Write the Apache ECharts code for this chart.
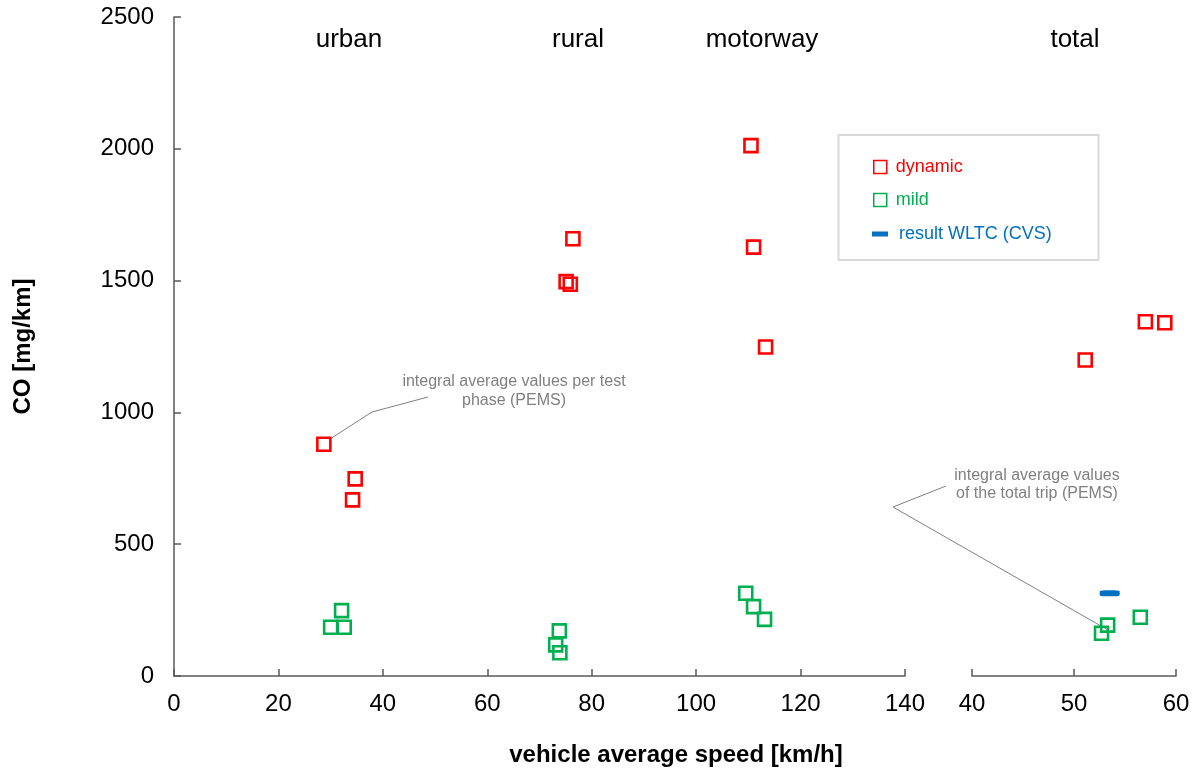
<!DOCTYPE html>
<html>
<head>
<meta charset="utf-8">
<script src="https://cdn.jsdelivr.net/npm/echarts@6/dist/echarts.min.js"></script>
<style>
html,body{margin:0;padding:0;background:#fff;}
#chart{width:1201px;height:772px;}
</style>
</head>
<body>
<div id="chart"></div>
<script>
// ---- data (vehicle average speed [km/h], CO [mg/km]) ----
var urbanDynamic    = [[28.7, 879], [34.7, 748], [34.2, 668]];
var urbanMild       = [[32.1, 248], [30.0, 185], [32.6, 185]];
var ruralDynamic    = [[76.4, 1659], [75.1, 1496], [75.9, 1486]];
var ruralMild       = [[73.8, 171], [73.1, 118], [73.9, 88]];
var motorwayDynamic = [[110.5, 2012], [111.0, 1627], [113.3, 1248]];
var motorwayMild    = [[109.5, 314], [111.0, 263], [113.1, 215]];
var totalDynamic    = [[51.1, 1199], [57.0, 1344], [58.9, 1340]];
var totalMild       = [[53.3, 193], [52.7, 162], [56.5, 223]];
var wltcResult      = [[53.5, 314]];

var phaseLabels = ['urban', 'rural', 'motorway', 'total'];
var seriesNames = ['dynamic', 'mild', 'result WLTC (CVS)'];
var annotationPhase = 'integral average values per test\nphase (PEMS)';
var annotationTotal = 'integral average values\nof the total trip (PEMS)';
var xTitle = 'vehicle average speed [km/h]';
var yTitle = 'CO [mg/km]';

var RED = '#ff0000', GREEN = '#00b050', BLUE = '#0070c0', AXIS = '#595959', GREY = '#808080';
var FONT = '"Liberation Sans", Arial, sans-serif';

var chart = echarts.init(document.getElementById('chart'));

function plain(v) { return String(v); }

function axisX(gridIndex, min, max, interval) {
  return {
    type: 'value', gridIndex: gridIndex, min: min, max: max, interval: interval,
    axisLine: {show: true, onZero: false, lineStyle: {color: AXIS, width: 1.5}},
    axisTick: {show: true, inside: true, length: 7, lineStyle: {color: AXIS, width: 1.5}},
    axisLabel: {color: '#000', fontSize: 24, fontFamily: FONT, margin: 16, formatter: plain},
    splitLine: {show: false}
  };
}

function squareSeries(name, data, color, xi) {
  return {
    name: name, type: 'scatter', xAxisIndex: xi, yAxisIndex: xi,
    symbol: 'rect', symbolSize: 13, data: data,
    itemStyle: {color: 'rgba(255,255,255,0)', borderColor: color, borderWidth: 2.6, opacity: 1},
    emphasis: {disabled: true}, z: 3
  };
}

var option = {
  animation: false,
  backgroundColor: '#fff',
  grid: [
    {left: 174, top: 17, width: 731, height: 659},
    {left: 972, top: 17, width: 204, height: 659}
  ],
  xAxis: [axisX(0, 0, 140, 20), axisX(1, 40, 60, 10)],
  yAxis: [
    {
      type: 'value', gridIndex: 0, min: 0, max: 2500, interval: 500,
      name: yTitle, nameLocation: 'middle', nameGap: 139, nameRotate: 90,
      nameTextStyle: {fontSize: 24, fontWeight: 'bold', color: '#000', fontFamily: FONT},
      axisLine: {show: true, lineStyle: {color: AXIS, width: 1.5}},
      axisTick: {show: true, inside: true, length: 7, lineStyle: {color: AXIS, width: 1.5}},
      axisLabel: {color: '#000', fontSize: 24, fontFamily: FONT, margin: 20, formatter: plain},
      splitLine: {show: false}
    },
    {type: 'value', gridIndex: 1, min: 0, max: 2500, interval: 500, show: false}
  ],
  legend: [
    {
      orient: 'vertical', left: 868, top: 153, itemWidth: 13, itemHeight: 13, itemGap: 15,
      selectedMode: false,
      textStyle: {fontSize: 18, fontFamily: FONT, padding: [0, 0, 0, 4]},
      data: [
        {name: seriesNames[0], icon: 'rect', itemStyle: {color: 'rgba(255,255,255,0)', borderColor: RED, borderWidth: 1.5}, textStyle: {color: RED}},
        {name: seriesNames[1], icon: 'rect', itemStyle: {color: 'rgba(255,255,255,0)', borderColor: GREEN, borderWidth: 1.5}, textStyle: {color: GREEN}}
      ]
    },
    {
      orient: 'vertical', left: 867, top: 220, itemWidth: 16, itemHeight: 5,
      selectedMode: false,
      textStyle: {fontSize: 18, fontFamily: FONT, padding: [0, 0, 0, 6]},
      data: [
        {name: seriesNames[2], icon: 'rect', itemStyle: {color: BLUE, borderWidth: 0}, textStyle: {color: BLUE}}
      ]
    }
  ],
  series: [
    squareSeries(seriesNames[0], urbanDynamic.concat(ruralDynamic, motorwayDynamic), RED, 0),
    squareSeries(seriesNames[1], urbanMild.concat(ruralMild, motorwayMild), GREEN, 0),
    squareSeries(seriesNames[0], totalDynamic, RED, 1),
    squareSeries(seriesNames[1], totalMild, GREEN, 1),
    {
      name: seriesNames[2], type: 'scatter', xAxisIndex: 1, yAxisIndex: 1,
      symbol: 'roundRect', symbolSize: [20, 6], data: wltcResult,
      itemStyle: {color: BLUE, opacity: 1}, emphasis: {disabled: true}, z: 4
    }
  ],
  graphic: [
    // legend frame
    {type: 'rect', shape: {x: 838.5, y: 135, width: 260, height: 125}, style: {fill: 'none', stroke: '#d9d9d9', lineWidth: 2}, z: 1},
    // phase labels
    {type: 'text', x: 349, y: 40, style: {text: phaseLabels[0], fontSize: 26, fontFamily: FONT, fill: '#000', align: 'center', verticalAlign: 'middle'}},
    {type: 'text', x: 578, y: 40, style: {text: phaseLabels[1], fontSize: 26, fontFamily: FONT, fill: '#000', align: 'center', verticalAlign: 'middle'}},
    {type: 'text', x: 762, y: 40, style: {text: phaseLabels[2], fontSize: 26, fontFamily: FONT, fill: '#000', align: 'center', verticalAlign: 'middle'}},
    {type: 'text', x: 1075, y: 40, style: {text: phaseLabels[3], fontSize: 26, fontFamily: FONT, fill: '#000', align: 'center', verticalAlign: 'middle'}},
    // annotations
    {type: 'text', x: 514, y: 391, style: {text: annotationPhase, fontSize: 16, lineHeight: 19, fontFamily: FONT, fill: GREY, align: 'center', verticalAlign: 'middle'}},
    {type: 'polyline', shape: {points: [[330, 439], [372, 412], [428, 397]]}, style: {stroke: GREY, lineWidth: 1, fill: 'none'}},
    {type: 'text', x: 1037, y: 484.5, style: {text: annotationTotal, fontSize: 16, lineHeight: 18, fontFamily: FONT, fill: GREY, align: 'center', verticalAlign: 'middle'}},
    {type: 'polyline', shape: {points: [[946, 486], [893, 507], [1108, 630]]}, style: {stroke: GREY, lineWidth: 1, fill: 'none'}},
    // x-axis title spanning both panels
    {type: 'text', x: 676, y: 755, style: {text: xTitle, fontSize: 24, fontWeight: 'bold', fontFamily: FONT, fill: '#000', align: 'center', verticalAlign: 'middle'}}
  ]
};
chart.setOption(option);
</script>
</body>
</html>
